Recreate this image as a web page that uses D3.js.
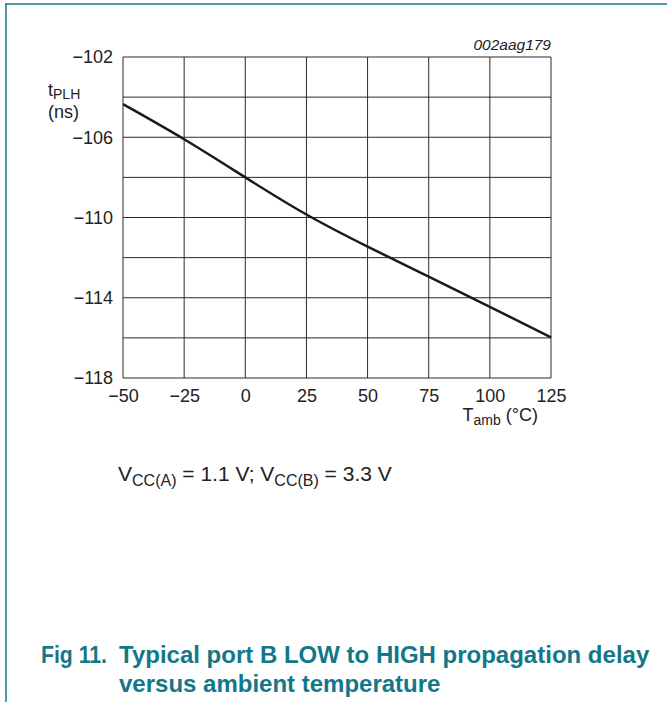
<!DOCTYPE html>
<html>
<head>
<meta charset="utf-8">
<script src="https://cdn.jsdelivr.net/npm/d3@7"></script>
<style>
  body { margin: 0; background: #fff; }
  svg { display: block; font-family: "Liberation Sans", Arial, sans-serif; }
</style>
</head>
<body>
<div class="chart"></div>
<script>
// data
var temps = [-50, -25, 0, 25, 50, 75, 100, 125];
var delays = [-104.35, -106.1, -108.0, -109.85, -111.45, -112.95, -114.45, -115.97];
var xTicks = [-50, -25, 0, 25, 50, 75, 100, 125];
var yTicks = [-102, -106, -110, -114, -118];

var width = 667, height = 702;
var teal = '#13778a';
var pLeft = 123, pRight = 551, pTop = 57, pBottom = 378;

var svg = d3.select('.chart').append('svg').attr('width', width).attr('height', height);

// frame lines
svg.append('line').attr('x1', 5).attr('x2', width).attr('y1', 4).attr('y2', 4)
  .attr('stroke', teal).attr('stroke-width', 1.5);
svg.append('line').attr('x1', 6).attr('x2', 6).attr('y1', 4).attr('y2', height)
  .attr('stroke', teal).attr('stroke-width', 1.5);

var x = d3.scaleLinear().domain([-50, 125]).range([pLeft, pRight]);
var y = d3.scaleLinear().domain([-118, -102]).range([pBottom, pTop]);

//grid
var grid = svg.append('g');
grid.selectAll('.vg').data(d3.range(-50, 126, 25)).enter().append('line')
  .attr('x1', function (d) { return x(d); }).attr('x2', function (d) { return x(d); })
  .attr('y1', pTop).attr('y2', pBottom).attr('stroke', '#2a2a2a').attr('stroke-width', 1);
grid.selectAll('.hg').data(d3.range(-118, -101, 2)).enter().append('line')
  .attr('x1', pLeft).attr('x2', pRight)
  .attr('y1', function (d) { return y(d); }).attr('y2', function (d) { return y(d); })
  .attr('stroke', '#2a2a2a').attr('stroke-width', 1);

var fmt = function (d) { return d < 0 ? '\u2212' + Math.abs(d) : '' + d; };

// axes (only labels shown)
var yAxis = d3.axisLeft(y).tickValues(yTicks).tickSize(0).tickPadding(10).tickFormat(fmt);
var yG = svg.append('g').attr('transform', 'translate(' + pLeft + ',0)').call(yAxis);
var xAxis = d3.axisBottom(x).tickValues(xTicks).tickSize(0).tickPadding(11).tickFormat(fmt);
var xG = svg.append('g').attr('transform', 'translate(0,' + pBottom + ')').call(xAxis);
[yG, xG].forEach(function (g) {
  g.select('.domain').remove();
  g.attr('font-size', 18).attr('font-family', '"Liberation Sans", Arial, sans-serif');
  g.selectAll('text').attr('fill', '#222');
});

// curve
var line = d3.line().x(function (d, i) { return x(temps[i]); }).y(function (d) { return y(d); })
  .curve(d3.curveNatural);
svg.append('path').datum(delays).attr('d', line).attr('fill', 'none')
  .attr('stroke', '#1a1a1a').attr('stroke-width', 2.5);

// labels
var yl = svg.append('text').attr('x', 48).attr('y', 96).attr('font-size', 18).attr('fill', '#222');
yl.append('tspan').text('t');
yl.append('tspan').attr('font-size', 14).attr('dy', 3).text('PLH');
svg.append('text').attr('x', 48).attr('y', 118).attr('font-size', 18).attr('fill', '#222').text('(ns)');

var xl = svg.append('text').attr('x', 538).attr('y', 421).attr('text-anchor', 'end')
  .attr('font-size', 18).attr('fill', '#222');
xl.append('tspan').text('T');
xl.append('tspan').attr('font-size', 14).attr('dy', 4).text('amb');
xl.append('tspan').attr('dy', -4).text(' (\u00B0C)');

svg.append('text').attr('x', pRight).attr('y', 50).attr('text-anchor', 'end')
  .attr('font-size', 15.5).attr('font-style', 'italic').attr('fill', '#222').text('002aag179');

var note = svg.append('text').attr('x', 118).attr('y', 481).attr('font-size', 21).attr('fill', '#222');
note.append('tspan').text('V');
note.append('tspan').attr('font-size', 16).attr('dy', 5).text('CC(A)');
note.append('tspan').attr('dy', -5).text(' = 1.1 V; V');
note.append('tspan').attr('font-size', 16).attr('dy', 5).text('CC(B)');
note.append('tspan').attr('dy', -5).text(' = 3.3 V');

// caption
var cap = svg.append('g').attr('font-size', 24).attr('font-weight', 'bold').attr('fill', teal);
cap.append('text').attr('x', 41).attr('y', 663).attr('textLength', 66).attr('lengthAdjust', 'spacingAndGlyphs').text('Fig 11.');
cap.append('text').attr('x', 119).attr('y', 663).text('Typical port B LOW to HIGH propagation delay');
cap.append('text').attr('x', 119).attr('y', 692).text('versus ambient temperature');
</script>
</body>
</html>
